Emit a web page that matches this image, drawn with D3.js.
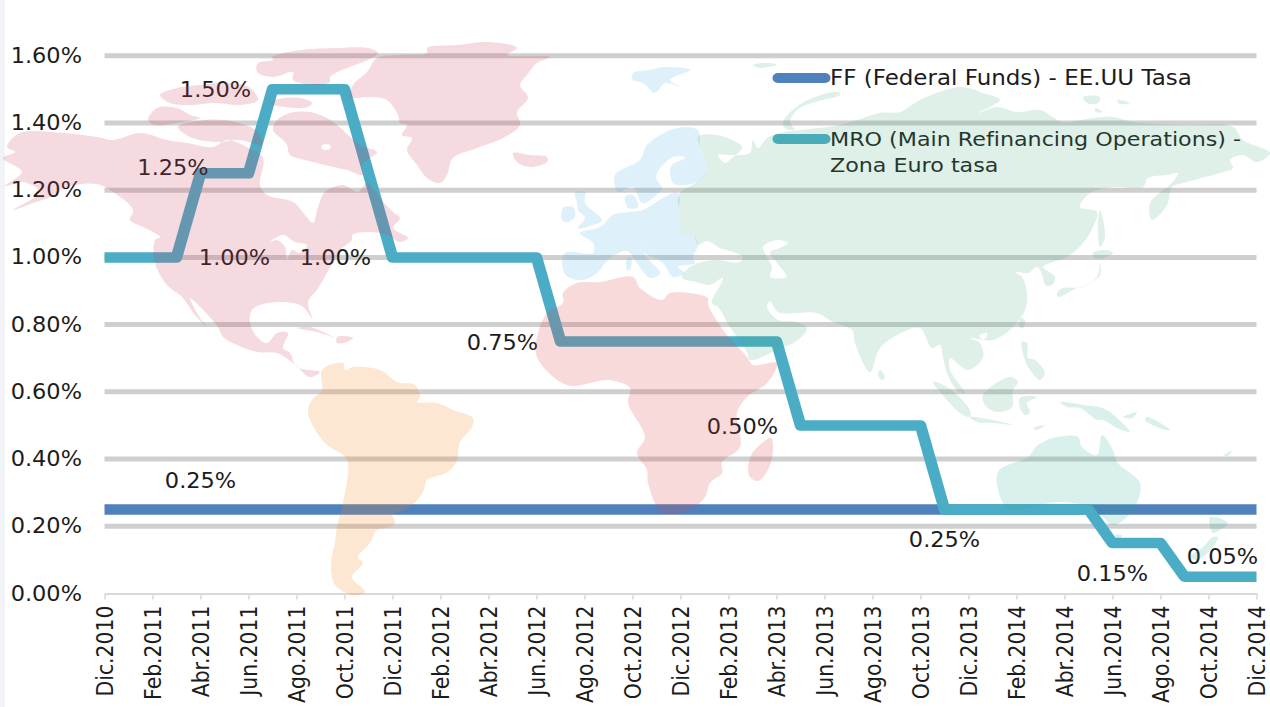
<!DOCTYPE html>
<html lang="es">
<head>
<meta charset="utf-8">
<script src="https://cdn.jsdelivr.net/npm/d3@7/dist/d3.min.js"></script>
<style>
html,body{margin:0;padding:0;background:#fff;overflow:hidden}
svg{display:block}
text{font-family:"DejaVu Sans",Verdana,sans-serif;fill:#1c1c1c}
</style>
</head>
<body>
<svg id="c" width="1270" height="707"></svg>
<script>
const months = ["Dic.2010","Ene.2011","Feb.2011","Mar.2011","Abr.2011","May.2011","Jun.2011","Jul.2011","Ago.2011","Sep.2011","Oct.2011","Nov.2011",
"Dic.2011","Ene.2012","Feb.2012","Mar.2012","Abr.2012","May.2012","Jun.2012","Jul.2012","Ago.2012","Sep.2012","Oct.2012","Nov.2012",
"Dic.2012","Ene.2013","Feb.2013","Mar.2013","Abr.2013","May.2013","Jun.2013","Jul.2013","Ago.2013","Sep.2013","Oct.2013","Nov.2013",
"Dic.2013","Ene.2014","Feb.2014","Mar.2014","Abr.2014","May.2014","Jun.2014","Jul.2014","Ago.2014","Sep.2014","Oct.2014","Nov.2014","Dic.2014"];
const tickMonths = ["Dic.2010","Feb.2011","Abr.2011","Jun.2011","Ago.2011","Oct.2011","Dic.2011","Feb.2012","Abr.2012","Jun.2012","Ago.2012","Oct.2012","Dic.2012","Feb.2013","Abr.2013","Jun.2013","Ago.2013","Oct.2013","Dic.2013","Feb.2014","Abr.2014","Jun.2014","Ago.2014","Oct.2014","Dic.2014"];
const yTicks = [0,0.2,0.4,0.6,0.8,1.0,1.2,1.4,1.6];
const ffValues = [0.25,0.25,0.25,0.25,0.25,0.25,0.25,0.25,0.25,0.25,0.25,0.25,0.25,0.25,0.25,0.25,0.25,0.25,0.25,0.25,0.25,0.25,0.25,0.25,0.25,0.25,0.25,0.25,0.25,0.25,0.25,0.25,0.25,0.25,0.25,0.25,0.25,0.25,0.25,0.25,0.25,0.25,0.25,0.25,0.25,0.25,0.25,0.25,0.25];
const mroValues = [1,1,1,1,1.25,1.25,1.25,1.5,1.5,1.5,1.5,1.25,
1,1,1,1,1,1,1,0.75,0.75,0.75,0.75,0.75,
0.75,0.75,0.75,0.75,0.75,0.5,0.5,0.5,0.5,0.5,0.5,0.25,
0.25,0.25,0.25,0.25,0.25,0.25,0.15,0.15,0.15,0.05,0.05,0.05,0.05];
const seriesNames = ["FF (Federal Funds) - EE.UU Tasa",["MRO (Main Refinancing Operations) -","Zona Euro tasa"]];
const seriesColors = ["#4F81BD","#4BACC6"];
const labelMonths = ["Jul.2011","May.2011","Jun.2011","Oct.2011","Jul.2012","May.2013","Abr.2011","Nov.2013","Jun.2014","Oct.2014"];
const labelValues = [1.5,1.25,1,1,0.75,0.5,0.25,0.25,0.15,0.05];
const labelDx = [-57,-51.5,-14,-9,-58,-58,0,0,0,14];
const labelDy = [8,2,8,8,9,9,-21,38,38,-13];

/* background world map, traced decoration (page pixels) */
const mapPink = [
 [[7,147],[20,133],[63,133],[97,137],[113,140],[140,133],[167,140],[187,143],[213,147],[227,140],[247,147],[263,158],[260,185],[267,195],[293,202],[305,215],[313,223],[318,207],[325,192],[343,185],[358,192],[367,183],[380,198],[393,212],[400,218],[393,228],[408,238],[400,242],[387,235],[370,232],[352,235],[352,240],[340,250],[327,273],[317,290],[308,302],[312,318],[302,306],[283,302],[263,304],[252,310],[250,323],[257,337],[267,343],[277,333],[288,333],[283,348],[290,353],[297,367],[320,372],[310,377],[293,363],[277,353],[257,352],[237,345],[223,337],[218,327],[205,312],[190,298],[200,318],[207,327],[195,315],[182,297],[167,285],[155,263],[155,240],[160,237],[143,227],[130,220],[133,210],[113,192],[97,184],[67,187],[50,197],[33,203],[13,210],[40,192],[23,182],[5,186],[22,172],[3,158],[15,152]],
 [[272,57],[302,50],[337,48],[368,48],[378,53],[368,60],[347,68],[330,77],[330,82],[317,85],[293,80],[293,72],[273,77],[257,72],[258,63],[273,60]],
 [[275,100],[300,98],[312,103],[308,107],[285,107],[272,104]],
 [[277,120],[290,113],[310,112],[327,118],[337,125],[348,135],[360,145],[377,152],[370,158],[362,165],[363,175],[347,170],[325,165],[305,160],[290,155],[287,145],[283,140],[273,130]],
 [[160,95],[177,88],[200,85],[230,83],[250,88],[258,100],[240,105],[215,103],[190,105],[170,103]],
 [[148,120],[157,108],[177,108],[190,115],[200,118],[175,123],[155,125]],
 [[178,127],[205,120],[235,122],[258,132],[262,145],[240,140],[215,142],[190,137]],
 [[427,48],[457,45],[490,42],[517,48],[507,55],[550,57],[537,63],[527,75],[520,85],[528,98],[517,112],[520,125],[503,138],[477,148],[453,158],[447,175],[440,183],[427,178],[417,165],[407,150],[412,138],[402,135],[407,125],[400,123],[398,115],[387,100],[370,97],[350,97],[353,85],[367,72],[377,58],[400,55],[427,53]],
 [[513,153],[530,155],[547,157],[547,162],[530,167],[517,162]],
 [[297,328],[310,327],[333,337],[317,332]],
 [[337,337],[353,338],[347,342],[337,343]],
 /* holes */
 [[270,242],[283,235],[295,242],[307,245],[300,253],[292,250],[287,260],[285,247],[277,240]],
 [[322,145],[330,145],[330,149],[322,149]]
];
const mapAfrica = [
 [[577,283],[600,282],[633,277],[640,288],[662,300],[670,293],[708,298],[708,304],[723,330],[747,357],[753,365],[777,363],[767,383],[747,397],[737,413],[740,447],[722,462],[722,473],[710,483],[705,497],[693,508],[663,513],[648,483],[647,470],[637,453],[645,437],[628,403],[630,388],[608,380],[567,385],[537,357],[538,333],[548,312],[563,303],[563,293]],
 [[771,438],[773,450],[768,470],[758,481],[750,477],[748,468],[753,452]]
];
const mapOrange = [
 [[322,370],[343,363],[345,370],[353,367],[380,370],[397,382],[415,385],[420,397],[417,402],[437,403],[453,410],[473,418],[472,427],[460,442],[457,460],[448,472],[427,480],[423,492],[410,507],[393,515],[395,523],[387,528],[377,530],[370,543],[358,557],[363,563],[352,577],[365,592],[353,595],[335,585],[331,563],[335,543],[337,527],[343,503],[348,463],[343,455],[325,443],[308,413],[312,400],[322,390]]
];
const mapBlue = [
 [[565,253],[593,253],[593,243],[580,233],[600,227],[613,215],[630,212],[643,210],[663,198],[677,193],[680,200],[678,208],[680,227],[677,233],[693,235],[698,245],[693,257],[695,263],[678,267],[685,273],[673,277],[663,263],[643,252],[640,247],[647,258],[660,273],[650,278],[637,263],[627,251],[608,260],[597,273],[583,280],[568,277],[563,270]],
 [[615,175],[640,160],[647,145],[677,128],[698,130],[700,147],[707,170],[697,182],[677,185],[673,183],[670,173],[672,165],[685,158],[673,157],[657,173],[657,180],[662,188],[653,198],[642,203],[633,187],[618,192]],
 [[625,197],[633,195],[638,207],[628,208]],
 [[575,193],[585,192],[585,203],[602,220],[593,225],[578,228],[585,218],[578,210],[577,202]],
 [[562,220],[563,208],[573,207],[575,217],[567,222]],
 [[633,73],[650,70],[663,67],[690,70],[670,80],[680,87],[665,83],[655,93],[643,83],[633,80]],
 [[627,258],[631,258],[630,270],[627,270]]
];
const mapGreen = [
 [[698,137],[717,135],[742,147],[732,158],[725,163],[718,155],[735,155],[750,153],[753,140],[758,148],[767,138],[780,133],[800,130],[840,125],[880,113],[900,112],[920,100],[960,87],[983,93],[1000,100],[978,113],[997,107],[1017,112],[1040,110],[1053,117],[1062,122],[1093,118],[1113,117],[1133,122],[1180,125],[1233,127],[1243,140],[1270,153],[1257,162],[1243,155],[1230,160],[1233,168],[1220,173],[1183,183],[1172,187],[1167,205],[1152,220],[1150,203],[1172,183],[1178,173],[1167,175],[1148,178],[1143,187],[1113,187],[1090,193],[1080,207],[1097,212],[1093,227],[1083,243],[1067,257],[1050,263],[1043,267],[1055,277],[1052,285],[1045,285],[1043,277],[1037,267],[1028,273],[1015,272],[1022,277],[1027,293],[1025,310],[1013,327],[993,340],[970,338],[980,343],[983,357],[968,370],[950,358],[950,370],[965,393],[957,390],[947,373],[943,357],[940,345],[932,348],[920,328],[903,332],[880,348],[870,372],[855,343],[852,330],[833,322],[817,313],[797,313],[778,312],[770,301],[767,307],[778,320],[795,322],[807,328],[798,340],[777,350],[750,360],[747,352],[730,327],[718,307],[712,303],[723,278],[710,285],[697,282],[682,278],[690,267],[713,260],[740,262],[743,257],[733,252],[720,248],[707,241],[698,245],[693,235],[677,233],[680,227],[678,208],[680,193],[697,182],[707,170],[700,147]],
 [[763,247],[777,240],[788,243],[780,248],[770,252],[777,263],[785,273],[787,277],[770,277],[772,267],[767,257]],
 [[838,92],[815,97],[795,108],[783,122],[785,128],[795,130],[790,122],[797,110],[815,102],[840,95]],
 [[1100,210],[1105,237],[1100,247],[1098,223]],
 [[1100,263],[1097,277],[1083,287],[1063,288],[1057,293],[1058,297],[1077,288],[1087,285],[1100,275]],
 [[1093,253],[1107,250],[1113,253],[1103,258],[1095,258]],
 [[1021,318],[1025,320],[1023,328],[1019,326]],
 [[980,335],[987,333],[986,338],[981,339]],
 [[1022,342],[1027,343],[1028,358],[1035,360],[1045,373],[1040,380],[1030,370],[1025,360]],
 [[880,370],[885,377],[882,380],[878,375]],
 [[933,382],[947,387],[970,410],[970,417],[960,413],[947,400]],
 [[970,417],[993,420],[1013,425],[993,423],[977,422]],
 [[983,395],[1010,377],[1018,382],[1013,390],[1012,407],[997,412],[985,405]],
 [[1020,398],[1037,397],[1027,403],[1030,412],[1025,415],[1020,408]],
 [[1033,428],[1045,425],[1037,430]],
 [[1083,97],[1100,97],[1098,103],[1087,103]],
 [[1117,100],[1130,103],[1120,104]],
 [[1095,108],[1103,112],[1096,112]],
 [[753,65],[770,63],[777,65],[768,67],[760,68]]
];
const mapTeal = [
 [[998,472],[1028,457],[1038,445],[1057,437],[1078,437],[1082,447],[1097,455],[1102,435],[1113,450],[1117,462],[1140,483],[1138,500],[1127,517],[1113,525],[1103,517],[1090,507],[1060,502],[1040,505],[1012,510],[1003,503]],
 [[1115,535],[1122,535],[1118,540]],
 [[1060,402],[1073,403],[1083,405],[1103,408],[1117,418],[1130,432],[1117,428],[1103,420],[1097,420],[1080,408],[1067,407]],
 [[1123,417],[1137,412],[1132,418]],
 [[1147,417],[1170,430],[1165,430],[1145,420]],
 [[1210,517],[1228,523],[1220,530],[1213,533]],
 [[1213,537],[1203,547],[1190,557],[1197,560],[1213,547],[1218,537]],
 [[1224,455],[1232,451],[1228,456]]
];

/* the reference picture is stretched horizontally: chart is drawn in a group scaled by sx */
const sx = 1.1;
const svg = d3.select("#c");
const root = svg.append("g").attr("transform","scale("+sx+",1)");
const x = d3.scalePoint().domain(months).range([104.5/sx,1256.5/sx]);
const y = d3.scaleLinear().domain([0,1.6]).range([593.5,55.7]);
const fmt = d => d3.format(".2f")(d)+"%";

svg.insert("rect","g").attr("x",0).attr("y",0).attr("width",5).attr("height",707).attr("fill","#F1F3F6");

/* gridlines */
root.append("g").selectAll("line").data(yTicks.filter(d=>d>0)).join("line")
  .attr("x1",x.range()[0]).attr("x2",x.range()[1]).attr("y1",d=>y(d)).attr("y2",d=>y(d))
  .attr("stroke","#CFCFCF").attr("stroke-width",5);

/* axes */
const gy = root.append("g").attr("transform","translate("+x.range()[0]+",0)")
  .call(d3.axisLeft(y).tickValues(yTicks).tickFormat(fmt).tickSize(0).tickPadding(20.5));
gy.select(".domain").remove();
gy.selectAll("text").style("font-size","20.4px");

const gx = root.append("g").attr("transform","translate(0,"+y(0)+")")
  .call(d3.axisBottom(x).tickValues(tickMonths).tickSize(6).tickSizeOuter(0));
gx.select(".domain").attr("stroke","#D9D9D9").attr("stroke-width",2);
gx.selectAll(".tick line").attr("stroke","#D9D9D9").attr("stroke-width",1.4);
gx.selectAll("text").style("font-size","20.4px")
  .attr("transform","rotate(-90)").attr("text-anchor","end")
  .attr("x",-12).attr("y",0).attr("dy",".36em");

/* series */
const line = d3.line().x((d,i)=>x(months[i])).y(d=>y(d));
[ffValues,mroValues].forEach((vals,i)=>{
  root.append("path").attr("d",line(vals)).attr("fill","none")
    .attr("stroke",seriesColors[i]).attr("stroke-width",10.5)
    .attr("stroke-linejoin","round").attr("stroke-linecap","butt");
});

/* data labels */
root.append("g").selectAll("text").data(labelValues).join("text")
  .attr("x",(d,i)=>x(labelMonths[i])+labelDx[i]/sx)
  .attr("y",(d,i)=>y(d)+labelDy[i])
  .attr("text-anchor","middle").style("font-size","20.4px")
  .text(fmt);

/* legend */
const legend = root.append("g");
[78,139].forEach((ly,i)=>{
  legend.append("line").attr("x1",778/sx).attr("x2",825/sx).attr("y1",ly).attr("y2",ly)
    .attr("stroke",seriesColors[i]).attr("stroke-width",10).attr("stroke-linecap","round");
});
legend.append("text").attr("x",830/sx).attr("y",85).style("font-size","20.9px").text(seriesNames[0]);
seriesNames[1].forEach((t,k)=>{
  legend.append("text").attr("x",830/sx).attr("y",146+k*26.5).style("font-size","20.2px").text(t);
});

/* world map painted over the chart with transparency */
const ring = d3.line().curve(d3.curveCatmullRomClosed.alpha(0.5));
const ringPath = rings => rings.map(r=>ring(r)).join("");
[[mapPink,"rgb(205,70,95)",0.2],[mapAfrica,"rgb(225,70,70)",0.2],[mapOrange,"rgb(245,135,30)",0.2],
 [mapBlue,"rgb(70,170,220)",0.18],[mapGreen,"rgb(70,170,120)",0.18],[mapTeal,"rgb(50,170,150)",0.18]]
.forEach(([rings,col,op])=>{
  svg.append("path").attr("d",ringPath(rings)).attr("fill",col).attr("fill-opacity",op)
    .attr("fill-rule","evenodd").attr("pointer-events","none");
});
</script>
</body>
</html>
